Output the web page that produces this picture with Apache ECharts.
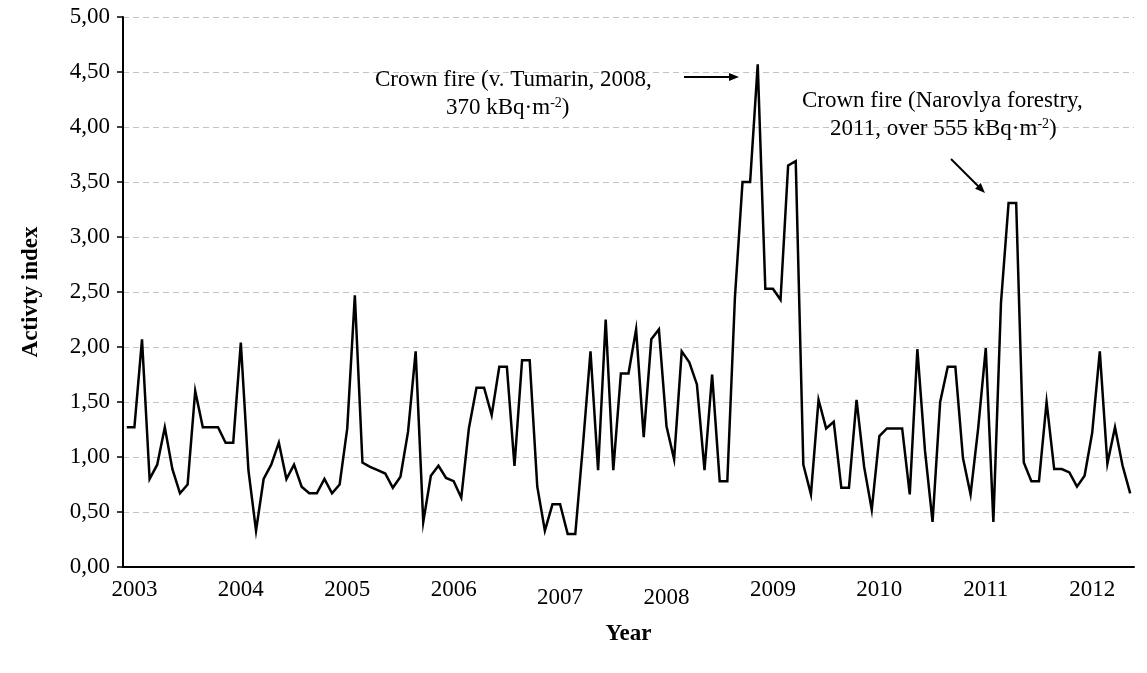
<!DOCTYPE html>
<html>
<head>
<meta charset="utf-8">
<script src="https://cdn.jsdelivr.net/npm/echarts@6/dist/echarts.min.js"></script>
<style>
  html, body { margin: 0; padding: 0; background: #ffffff; }
  #chart { width: 1147px; height: 673px; }
</style>
</head>
<body>
<div id="chart"></div>
<script>
// Monthly activity index series
const activity = [
  1.27, 1.27, 2.07, 0.80, 0.93, 1.27, 0.89, 0.67, 0.75, 1.60,
  1.27, 1.27, 1.27, 1.13, 1.13, 2.04, 0.88, 0.33, 0.80, 0.93,
  1.13, 0.80, 0.93, 0.73, 0.67, 0.67, 0.80, 0.67, 0.75, 1.26,
  2.47, 0.95, 0.91, 0.88, 0.85, 0.72, 0.82, 1.23, 1.96, 0.41,
  0.83, 0.92, 0.81, 0.78, 0.63, 1.26, 1.63, 1.63, 1.38, 1.82,
  1.82, 0.92, 1.88, 1.88, 0.73, 0.33, 0.57, 0.57, 0.30, 0.30,
  1.10, 1.96, 0.88, 2.25, 0.88, 1.76, 1.76, 2.16, 1.18, 2.07,
  2.16, 1.28, 0.98, 1.96, 1.86, 1.66, 0.88, 1.75, 0.78, 0.78,
  2.45, 3.50, 3.50, 4.57, 2.53, 2.53, 2.43, 3.65, 3.69, 0.93,
  0.66, 1.52, 1.26, 1.32, 0.72, 0.72, 1.52, 0.91, 0.52, 1.19,
  1.26, 1.26, 1.26, 0.66, 1.98, 1.06, 0.41, 1.50, 1.82, 1.82,
  0.99, 0.66, 1.26, 1.99, 0.41, 2.40, 3.31, 3.31, 0.95, 0.78,
  0.78, 1.50, 0.89, 0.89, 0.86, 0.73, 0.83, 1.22, 1.96, 0.94,
  1.27, 0.92, 0.67
];

// Sample numbers along the time axis
const samples = activity.map((_, i) => i);

// Year captions and the sample each one sits under
const yearLabels = ['2003', '2004', '2005', '2006', '2007', '2008', '2009', '2010', '2011', '2012'];
const yearLabelAt = [1, 15, 29, 43, 57, 71, 85, 99, 113, 127];
const loweredYears = ['2007', '2008'];

const FONT = '"Liberation Serif", "Times New Roman", serif';

const chart = echarts.init(document.getElementById('chart'), null, { renderer: 'canvas' });

const supRich = {
  sup: { fontSize: 14, fontFamily: FONT, color: '#000', verticalAlign: 'top', lineHeight: 14, padding: [0, 0, 8, 0] }
};

function arrowHead(tip, dx, dy) {
  const len = Math.hypot(dx, dy);
  const ux = dx / len, uy = dy / len;
  const bx = tip[0] - ux * 10, by = tip[1] - uy * 10;
  return [tip, [bx - uy * 4, by + ux * 4], [bx + uy * 4, by - ux * 4]];
}

chart.setOption({
  backgroundColor: '#ffffff',
  animation: false,
  grid: { left: 123, right: 13, top: 17, bottom: 106, containLabel: false },
  xAxis: {
    type: 'category',
    data: samples,
    boundaryGap: true,
    name: 'Year',
    nameLocation: 'middle',
    nameGap: 56,
    nameTextStyle: { fontFamily: FONT, fontSize: 23, fontWeight: 'bold', color: '#000' },
    axisLine: { show: true, lineStyle: { color: '#000', width: 2 } },
    axisTick: { show: false },
    axisLabel: {
      interval: (idx) => yearLabelAt.includes(idx),
      formatter: (val) => {
        const k = yearLabelAt.indexOf(Number(val));
        if (k < 0) return '';
        const t = yearLabels[k];
        return loweredYears.includes(t) ? '{low|' + t + '}' : '{std|' + t + '}';
      },
      margin: 11,
      rich: {
        std: { fontFamily: FONT, fontSize: 23, color: '#000' },
        low: { fontFamily: FONT, fontSize: 23, color: '#000', padding: [8, 0, 0, 0] }
      }
    },
    splitLine: { show: false }
  },
  yAxis: {
    type: 'value',
    min: 0,
    max: 5,
    interval: 0.5,
    name: 'Activty index',
    nameLocation: 'middle',
    nameGap: 80,
    nameTextStyle: { fontFamily: FONT, fontSize: 23, fontWeight: 'bold', color: '#000' },
    axisLine: { show: true, lineStyle: { color: '#000', width: 2 } },
    axisTick: { show: true, inside: false, length: 6, lineStyle: { color: '#000', width: 1.5 } },
    axisLabel: {
      fontFamily: FONT,
      fontSize: 23,
      color: '#000',
      margin: 13,
      formatter: (v) => v.toFixed(2).replace('.', ',')
    },
    splitLine: { show: true, lineStyle: { color: '#c4c4c4', type: [6, 4], width: 1 } }
  },
  series: [{
    type: 'line',
    data: activity,
    symbol: 'none',
    lineStyle: { color: '#000', width: 2.5, join: 'miter' },
    z: 5
  }],
  graphic: [
    { type: 'text', left: 375, top: 68, z: 10,
      style: { text: 'Crown fire (v. Tumarin, 2008,', font: '23px ' + FONT, fill: '#000' } },
    { type: 'text', left: 446, top: 96, z: 10,
      style: { text: '370 kBq·m{sup|-2})', font: '23px ' + FONT, fill: '#000', rich: supRich } },
    { type: 'polyline', z: 10, shape: { points: [[684, 77], [732, 77]] },
      style: { stroke: '#000', lineWidth: 2 } },
    { type: 'polygon', z: 10, shape: { points: arrowHead([739, 77], 1, 0) },
      style: { fill: '#000' } },
    { type: 'text', left: 802, top: 89, z: 10,
      style: { text: 'Crown fire (Narovlya forestry,', font: '23px ' + FONT, fill: '#000' } },
    { type: 'text', left: 830, top: 117, z: 10,
      style: { text: '2011, over 555 kBq·m{sup|-2})', font: '23px ' + FONT, fill: '#000', rich: supRich } },
    { type: 'polyline', z: 10, shape: { points: [[951, 159], [980, 188]] },
      style: { stroke: '#000', lineWidth: 2 } },
    { type: 'polygon', z: 10, shape: { points: arrowHead([985, 193], 1, 1) },
      style: { fill: '#000' } }
  ]
});
</script>
</body>
</html>
